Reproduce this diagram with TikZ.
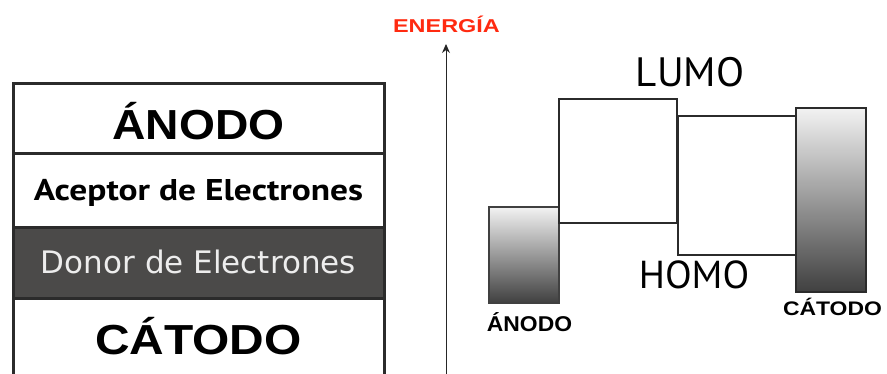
\documentclass[tikz,border=0pt]{standalone}
\usepackage{fontspec}
\usepackage{graphicx}
\usetikzlibrary{positioning,arrows.meta}
\newfontfamily\helv{Liberation Sans}
\newfontfamily\ptsans{PT Sans}
\newfontfamily\dvsans{DejaVu Sans}
\definecolor{donorgris}{HTML}{4B4A49}
\definecolor{marco}{HTML}{2B2B2B}
\definecolor{energiarojo}{HTML}{FF2A10}

\begin{document}
\begin{tikzpicture}[x=1pt, y=-1pt,
    capa/.style={draw=marco, line width=3pt, minimum width=371pt, inner ysep=0pt, text depth=0pt},
    nivel/.style={draw=marco, line width=1.8pt, minimum width=118pt},
    electrodo/.style={draw=marco!90, line width=1.5pt, minimum width=70pt, top color=black!5, bottom color=black!75},
    rotulo/.style={anchor=base, inner sep=0pt}]
\useasboundingbox (0,0) rectangle (887,374);

% pila de capas
\node[capa, minimum height=70pt, text height=42pt] (anodo) at (198.5,119)
    {\helv\bfseries\fontsize{42}{42}\selectfont\scalebox{1.1}[1]{ÁNODO}};
\node[capa, minimum height=74pt, text height=20pt] (aceptor) at (198.5,191)
    {\ptsans\bfseries\fontsize{30}{30}\selectfont\scalebox{1.18}[1]{Aceptor de Electrones}};
\node[capa, fill=donorgris, text=white!93!black, minimum height=71pt, text height=21pt] (donor) at (198.5,263.5)
    {\dvsans\fontsize{31}{31}\selectfont Donor de Electrones};
\node[capa, minimum height=77pt, text height=35pt] (catodo) at (198.5,337.5)
    {\helv\bfseries\fontsize{42}{42}\selectfont\scalebox{1.14}[1]{CÁTODO}};

% eje de energia
\coordinate (ejeBase) at (446,376);
\coordinate (ejeTope) at (446,44);
\draw[black!85, line width=1pt, -{Stealth[length=9pt,width=8pt]}] (ejeBase) -- (ejeTope);
\node[rotulo, text=energiarojo] (energia) at (446.5,33)
    {\helv\bfseries\fontsize{18.6}{18.6}\selectfont\scalebox{1.26}[1]{ENERGÍA}};

% niveles
\node[electrodo, minimum height=96pt] (anodoE) at (524,255) {};
\node[nivel, minimum height=124pt] (aceptorE) at (618,161) {};
\node[nivel, minimum height=139pt] (donorE) at (737,185.5) {};
\node[electrodo, minimum height=184pt, draw=marco, line width=1.8pt] (catodoE) at (831,200) {};

\node[rotulo] (lumo) at (690,87) {\ptsans\fontsize{41}{41}\selectfont LUMO};
\node[rotulo] (homo) at (694,289) {\ptsans\fontsize{39}{39}\selectfont HOMO};
\node[rotulo] (anodoL) at (529.5,331)
    {\helv\bfseries\fontsize{21.4}{21.4}\selectfont\scalebox{1.07}[1]{ÁNODO}};
\node[rotulo] (catodoL) at (832.5,316)
    {\helv\bfseries\fontsize{19.6}{19.6}\selectfont\scalebox{1.17}[1]{CÁTODO}};
\end{tikzpicture}
\end{document}
